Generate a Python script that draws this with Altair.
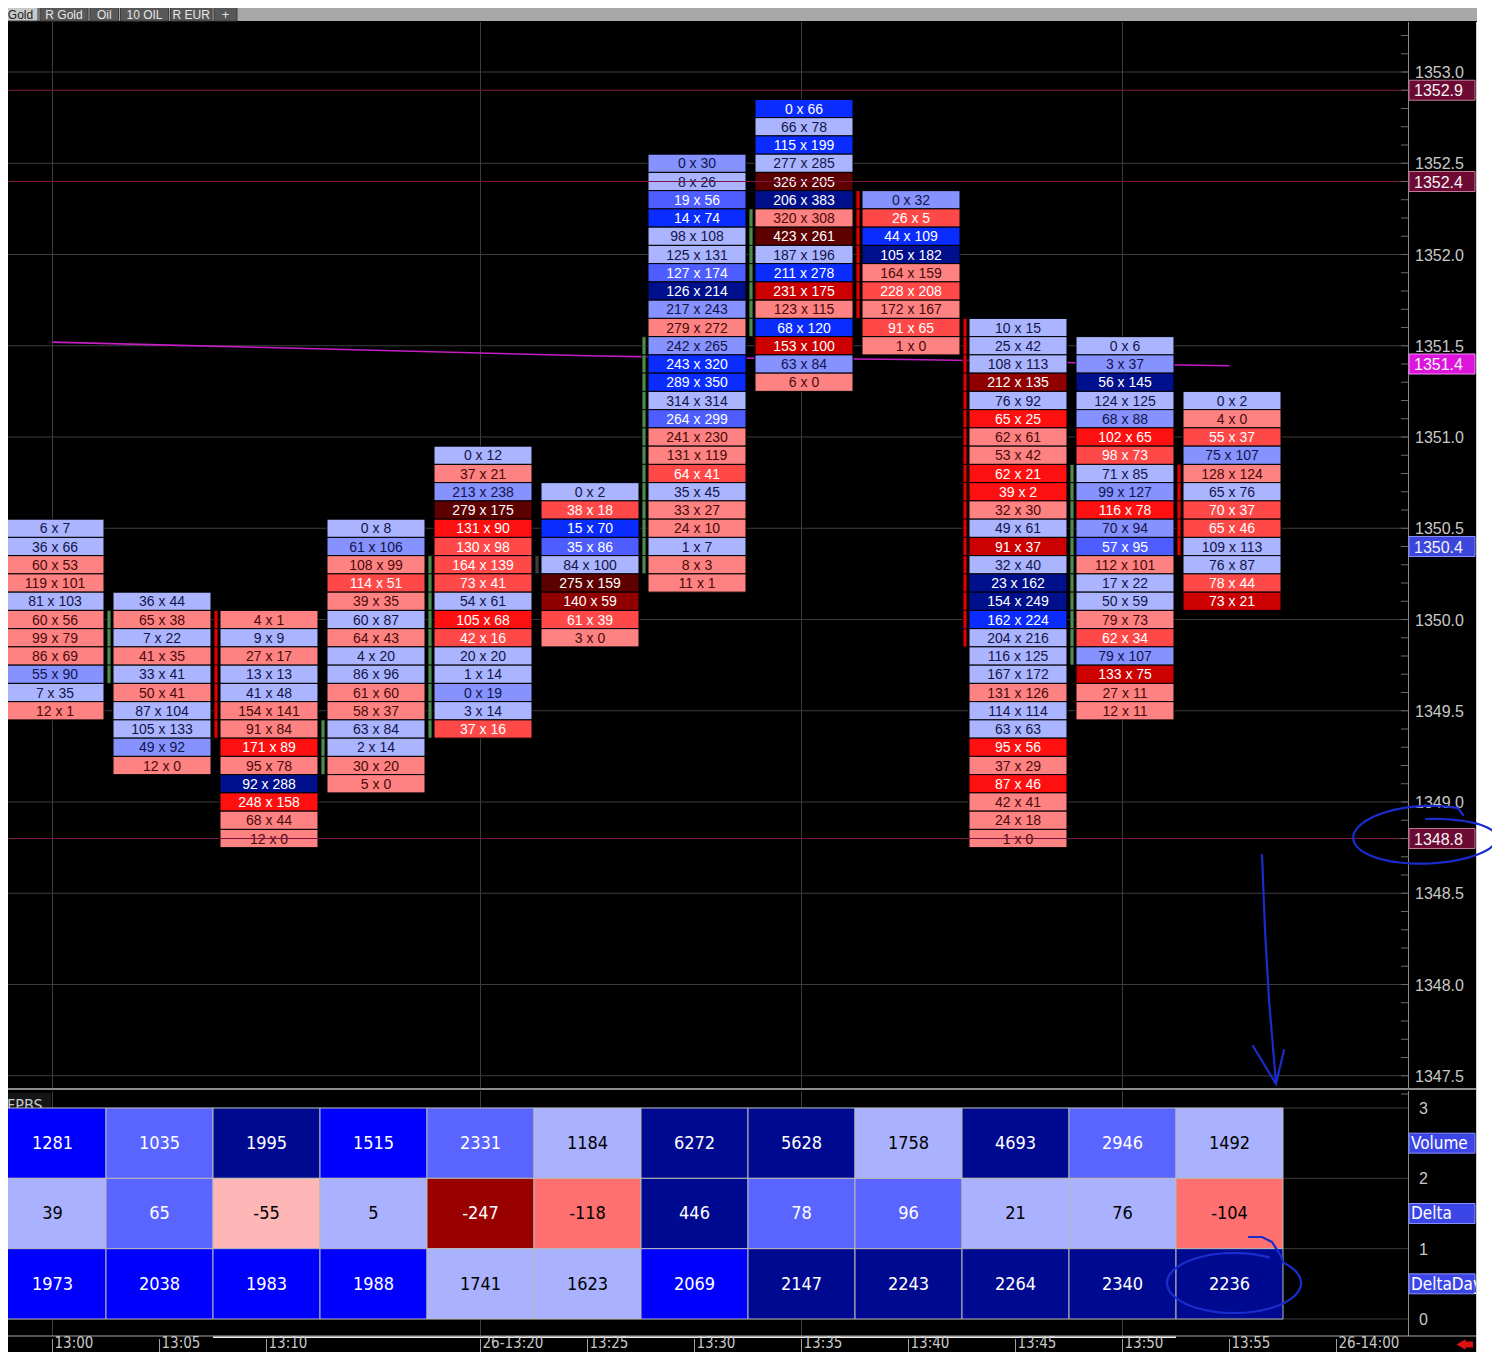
import math
import altair as alt
import pandas as pd

# ---------------------------------------------------------------- data
bar_labels = ["13:00", "13:05", "13:10", "13:15", "13:20", "13:25",
              "13:30", "13:35", "13:40", "13:45", "13:50", "13:55"]
bar_minutes = [0, 5, 10, 15, 20, 25, 30, 35, 40, 45, 50, 55]
top_price = [1350.5, 1350.1, 1350.0, 1350.5, 1350.9, 1350.7,
             1352.5, 1352.8, 1352.3, 1351.6, 1351.5, 1351.2]

cells_1 = ["6x7", "36x66", "60x53", "119x101", "81x103", "60x56", "99x79", "86x69", "55x90", "7x35", "12x1"]
shade_1 = ["lb", "lb", "lr", "lr", "lb", "lr", "lr", "lr", "mb", "lb", "lr"]
cells_2 = ["36x44", "65x38", "7x22", "41x35", "33x41", "50x41", "87x104", "105x133", "49x92", "12x0"]
shade_2 = ["lb", "lr", "lb", "lr", "lb", "lr", "lb", "lb", "mb", "lr"]
cells_3 = ["4x1", "9x9", "27x17", "13x13", "41x48", "154x141", "91x84", "171x89", "95x78", "92x288", "248x158", "68x44", "12x0"]
shade_3 = ["lr", "lb", "lr", "lb", "lb", "lr", "lr", "br", "lr", "db", "br", "lr", "lr"]
cells_4 = ["0x8", "61x106", "108x99", "114x51", "39x35", "60x87", "64x43", "4x20", "86x96", "61x60", "58x37", "63x84", "2x14", "30x20", "5x0"]
shade_4 = ["lb", "mb", "lr", "mr", "lr", "lb", "lr", "lb", "lb", "lr", "lr", "lb", "lb", "lr", "lr"]
cells_5 = ["0x12", "37x21", "213x238", "279x175", "131x90", "130x98", "164x139", "73x41", "54x61", "105x68", "42x16", "20x20", "1x14", "0x19", "3x14", "37x16"]
shade_5 = ["lb", "lr", "mb", "xr", "br", "mr", "mr", "mr", "lb", "br", "mr", "lb", "lb", "mb", "lb", "mr"]
cells_6 = ["0x2", "38x18", "15x70", "35x86", "84x100", "275x159", "140x59", "61x39", "3x0"]
shade_6 = ["lb", "mr", "bb", "mb2", "lb", "xr", "dr", "mr", "lr"]
cells_7 = ["0x30", "8x26", "19x56", "14x74", "98x108", "125x131", "127x174", "126x214", "217x243", "279x272", "242x265", "243x320",
           "289x350", "314x314", "264x299", "241x230", "131x119", "64x41", "35x45", "33x27", "24x10", "1x7", "8x3", "11x1"]
shade_7 = ["mb", "lb", "mb2", "bb", "lb", "lb", "mb2", "db", "mb", "lr", "mb", "bb",
           "bb", "lb", "mb2", "lr", "lr", "mr", "lb", "lr", "lr", "lb", "lr", "lr"]
cells_8 = ["0x66", "66x78", "115x199", "277x285", "326x205", "206x383", "320x308", "423x261", "187x196", "211x278", "231x175", "123x115",
           "68x120", "153x100", "63x84", "6x0"]
shade_8 = ["bb", "lb", "bb", "lb", "xr", "db", "lr", "xr", "lb", "bb", "cr", "lr", "bb", "cr", "mb", "lr"]
cells_9 = ["0x32", "26x5", "44x109", "105x182", "164x159", "228x208", "172x167", "91x65", "1x0"]
shade_9 = ["mb", "mr", "bb", "db", "lr", "mr", "lr", "mr", "lr"]
cells_10 = ["10x15", "25x42", "108x113", "212x135", "76x92", "65x25", "62x61", "53x42", "62x21", "39x2", "32x30", "49x61", "91x37",
            "32x40", "23x162", "154x249", "162x224", "204x216", "116x125", "167x172", "131x126", "114x114", "63x63", "95x56", "37x29",
            "87x46", "42x41", "24x18", "1x0"]
shade_10 = ["lb", "lb", "lb", "dr", "lb", "br", "lr", "lr", "br", "br", "lr", "lb", "cr",
            "lb", "db", "db", "bb", "lb", "lb", "lb", "lr", "lb", "lb", "br", "lr",
            "br", "lr", "lr", "lr"]
cells_11 = ["0x6", "3x37", "56x145", "124x125", "68x88", "102x65", "98x73", "71x85", "99x127", "116x78", "70x94", "57x95", "112x101",
            "17x22", "50x59", "79x73", "62x34", "79x107", "133x75", "27x11", "12x11"]
shade_11 = ["lb", "mb", "db", "lb", "mb", "br", "mr", "lb", "mb", "br", "mb", "mb2", "lr",
            "lb", "lb", "lr", "mr", "mb", "cr", "lr", "lr"]
cells_12 = ["0x2", "4x0", "55x37", "75x107", "128x124", "65x76", "70x37", "65x46", "109x113", "76x87", "78x44", "73x21"]
shade_12 = ["lb", "lr", "mr", "mb", "lr", "lb", "mr", "mr", "lb", "lb", "mr", "cr"]

all_cells = [cells_1, cells_2, cells_3, cells_4, cells_5, cells_6, cells_7, cells_8, cells_9, cells_10, cells_11, cells_12]
all_shades = [shade_1, shade_2, shade_3, shade_4, shade_5, shade_6, shade_7, shade_8, shade_9, shade_10, shade_11, shade_12]

side_bar_kind = ["g", "g", "r", "g", "g", "k", "g", "g", "r", "r", "g", "r"]
side_bar_top = [1349.8, 1350.0, 1350.0, 1349.4, 1350.3, 1350.3, 1351.5, 1352.2, 1352.3, 1351.6, 1350.8, 1350.8]
side_bar_bottom = [1349.5, 1349.7, 1349.4, 1349.2, 1349.4, 1350.3, 1350.3, 1351.6, 1351.7, 1349.9, 1349.8, 1350.4]

vwap = [1351.52, 1351.505, 1351.49, 1351.475, 1351.46, 1351.445,
        1351.435, 1351.43, 1351.425, 1351.415, 1351.40, 1351.39]

volume = [1281, 1035, 1995, 1515, 2331, 1184, 6272, 5628, 1758, 4693, 2946, 1492]
delta = [39, 65, -55, 5, -247, -118, 446, 78, 96, 21, 76, -104]
delta_day = [1973, 2038, 1983, 1988, 1741, 1623, 2069, 2147, 2243, 2264, 2340, 2236]
volume_shade = ["bb", "mb", "db", "bb", "mb", "lb", "db", "db", "lb", "db", "mb", "lb"]
delta_shade = ["lb", "mb", "pk", "lb", "dr", "sa", "db", "mb", "mb", "lb", "lb", "sa"]
delta_day_shade = ["bb", "bb", "bb", "bb", "lb", "lb", "bb", "db", "db", "db", "db", "db"]
row_names = ["Volume", "Delta", "DeltaDay"]
row_axis_labels = ["3", "2", "1", "0"]

level_prices = [1352.9, 1352.4, 1351.4, 1350.4, 1348.8]
level_kind = ["m", "m", "v", "b", "m"]

time_label_minutes = [0, 5, 10, 20, 25, 30, 35, 40, 45, 50, 55, 60]
time_labels = ["13:00", "13:05", "13:10", "26-13:20", "13:25", "13:30",
               "13:35", "13:40", "13:45", "13:50", "13:55", "26-14:00"]
grid_minutes = [0, 20, 35, 50]
tabs = ["Gold", "R Gold", "Oil", "10 OIL", "R EUR", "+"]

# ---------------------------------------------------------------- styles
FILL = {"lb": "#aab4ff", "mb": "#8592ff", "mb2": "#4d5dff", "bb": "#0a2cff", "db": "#00108c",
        "lr": "#ff8282", "mr": "#ff4848", "br": "#ff1010", "cr": "#cc0000", "dr": "#900000", "xr": "#5c0000"}
TXT = {"lb": "#14144a", "mb": "#14144a", "lr": "#4a0a0a"}
BFILL = {"bb": "#0000ff", "mb": "#5a64ff", "db": "#000a90", "lb": "#aab2ff",
         "pk": "#ffb6b6", "sa": "#ff7070", "dr": "#990000"}
BTXT = {"lb": "#000000", "pk": "#000000", "sa": "#000000"}
SIDE = {"g": "#4c8c4c", "r": "#e00000", "k": "#404040"}
LEVEL_FILL = {"m": "#6c0a34", "v": "#dc14dc", "b": "#3c46dc"}
LEVEL_STROKE = {"m": "#c07898", "v": "#f090f0", "b": "#8890ff"}
FONT = "Liberation Sans, Arial, sans-serif"
NARROW = "Liberation Sans Narrow, Arial Narrow, DejaVu Sans Condensed, Liberation Sans, sans-serif"
PEN = "#1a2ccc"

# ---------------------------------------------------------------- geometry
# the picture covers reference pixels x 8..1492, y 8..1352 (page margin is 8px)
PX_PER_MIN = 21.4
X_1300 = 52.5


def mx(px):
    return (px - X_1300) / PX_PER_MIN


def dm(dpx):
    return dpx / PX_PER_MIN


def py(y):
    return 1353.0 - (y - 72.0) / 182.5


def vy(y):
    return 3.0 - (y - 1108.0) / 70.333


LEFT, RIGHT, TOP, BOTTOM = 8, 1492, 8, 1352
W, H = RIGHT - LEFT, BOTTOM - TOP
XD = [mx(LEFT), mx(RIGHT)]
xs = alt.Scale(domain=XD, nice=False, zero=False)
ys_main = alt.Scale(domain=[py(BOTTOM), py(TOP)], nice=False, zero=False)
ys_sub = alt.Scale(domain=[vy(BOTTOM), vy(TOP)], nice=False, zero=False)
ys_px = alt.Scale(domain=[TOP, BOTTOM], reverse=True, nice=False, zero=False)


def C(rows):
    return alt.Chart(pd.DataFrame(rows))


def rect(rows, ys, **mk):
    return C(rows).mark_rect(clip=True, **mk).encode(
        x=alt.X("x1:Q", scale=xs, axis=None), x2="x2:Q",
        y=alt.Y("y1:Q", scale=ys, axis=None), y2="y2:Q")


def hrule(rows, ys, **mk):
    return C(rows).mark_rule(clip=True, **mk).encode(
        x=alt.X("x1:Q", scale=xs, axis=None), x2="x2:Q",
        y=alt.Y("y:Q", scale=ys, axis=None))


def vrule(rows, ys, **mk):
    return C(rows).mark_rule(clip=True, **mk).encode(
        x=alt.X("x:Q", scale=xs, axis=None),
        y=alt.Y("y1:Q", scale=ys, axis=None), y2="y2:Q")


def text(rows, ys, **mk):
    enc = dict(x=alt.X("x:Q", scale=xs, axis=None), y=alt.Y("y:Q", scale=ys, axis=None), text="t:N")
    if "tc" in rows[0]:
        enc["color"] = alt.Color("tc:N", scale=None)
    return C(rows).mark_text(clip=True, **mk).encode(**enc)


def path(rows, ys, **mk):
    return C(rows).mark_line(clip=True, **mk).encode(
        x=alt.X("x:Q", scale=xs, axis=None), y=alt.Y("y:Q", scale=ys, axis=None),
        detail="g:N", order="o:Q")


layers = []

# ---------------------------------------------------------------- tab bar
tab_rows, tab_text = [], []
cur = 3
for i, name in enumerate(tabs):
    w = max(23, 6.5 * len(name) + 9)
    sel = i == 0
    tab_rows.append(dict(x1=mx(cur), x2=mx(cur + w), y1=2, y2=21, fill="#c8c8c8" if sel else "#585858"))
    tab_text.append(dict(x=mx(cur + w / 2), y=15, t=name, tc="#202020" if sel else "#e6e6e6"))
    cur += w + 2

layers += [
    rect([dict(x1=XD[0], x2=mx(1477), y1=0, y2=21)], ys_px, color="#a8a8a8"),
    rect(tab_rows, ys_px, stroke="#3c3c3c", strokeWidth=1).encode(fill=alt.Fill("fill:N", scale=None)),
    text(tab_text, ys_px, font=FONT, fontSize=12, align="center", baseline="middle"),
]

# ---------------------------------------------------------------- main panel
cell_rows, cell_text, side_rows = [], [], []
for k, m in enumerate(bar_minutes):
    for i, c in enumerate(all_cells[k]):
        b, a = c.split("x")
        p = round(top_price[k] - 0.1 * i, 1)
        sh = all_shades[k][i]
        cell_rows.append(dict(x1=m + dm(-46.5), x2=m + dm(51.5), y1=p - 0.05, y2=p + 0.05, fill=FILL[sh]))
        cell_text.append(dict(x=m + dm(2.5), y=p, t=f"{b} x {a}", tc=TXT.get(sh, "#ffffff")))
    n = int(round((side_bar_top[k] - side_bar_bottom[k]) * 10)) + 1
    for j in range(n):
        p = side_bar_top[k] - 0.1 * j
        side_rows.append(dict(x1=m + dm(-52.5), x2=m + dm(-48.5), y1=p - 0.05, y2=p + 0.05,
                              fill=SIDE[side_bar_kind[k]]))

price_grid = [1347.5 + 0.5 * i for i in range(12)]
price_ticks = [round(1347.4 + 0.1 * i, 1) for i in range(59)]
ax_left, ax_right = mx(1408.5), mx(1476.5)
M_TOP, M_BOT = py(22), py(1090)

layers += [
    hrule([dict(x1=XD[0], x2=ax_left, y=p) for p in price_grid], ys_main, color="#3c3c3c", strokeWidth=1),
    vrule([dict(x=m, y1=M_BOT, y2=M_TOP) for m in grid_minutes], ys_main, color="#3c3c3c", strokeWidth=1),
    C([dict(x=m, y=v) for m, v in zip(bar_minutes, vwap)]).mark_line(clip=True, color="#c41ec4", strokeWidth=1.6).encode(
        x=alt.X("x:Q", scale=xs, axis=None), y=alt.Y("y:Q", scale=ys_main, axis=None)),
    rect(cell_rows, ys_main, stroke="#000000", strokeWidth=1).encode(fill=alt.Fill("fill:N", scale=None)),
    rect(side_rows, ys_main, stroke="#000000", strokeWidth=0.8).encode(fill=alt.Fill("fill:N", scale=None)),
    text(cell_text, ys_main, font=FONT, fontSize=14, align="center", baseline="middle", dy=1),
    hrule([dict(x1=XD[0], x2=ax_left, y=p) for p, kd in zip(level_prices, level_kind) if kd == "m"],
          ys_main, color="#7a1444", strokeWidth=1),
    hrule([dict(x1=XD[0], x2=ax_right, y=py(1089))], ys_main, color="#8c8c8c", strokeWidth=2),
    vrule([dict(x=ax_left, y1=M_BOT, y2=M_TOP)], ys_main, color="#8a8a8a", strokeWidth=1),
    hrule([dict(x1=mx(1401), x2=ax_left, y=p) for p in price_ticks], ys_main, color="#6a6a6a", strokeWidth=1),
    text([dict(x=mx(1415), y=p, t=f"{p:.1f}") for p in price_grid], ys_main,
         font=FONT, fontSize=16, align="left", baseline="middle", color="#c8c8c8", dy=1),
    rect([dict(x1=mx(1409), x2=mx(1475), y1=p - 0.0548, y2=p + 0.0548, fill=LEVEL_FILL[kd], st=LEVEL_STROKE[kd])
          for p, kd in zip(level_prices, level_kind)], ys_main, strokeWidth=1).encode(
        fill=alt.Fill("fill:N", scale=None), stroke=alt.Stroke("st:N", scale=None)),
    text([dict(x=mx(1414), y=p, t=f"{p:.1f}") for p in level_prices], ys_main,
         font=FONT, fontSize=16, align="left", baseline="middle", color="#f4f4f4", dy=1),
]

# ---------------------------------------------------------------- bottom (FPBS) panel
sub_cells, sub_text = [], []
for k, m in enumerate(bar_minutes):
    for r, (vals, shades) in enumerate([(volume, volume_shade), (delta, delta_shade), (delta_day, delta_day_shade)]):
        lo = 2 - r
        sh = shades[k]
        sub_cells.append(dict(x1=m - 2.5, x2=m + 2.5, y1=lo, y2=lo + 1, fill=BFILL[sh]))
        sub_text.append(dict(x=m, y=lo + 0.5, t=str(vals[k]), tc=BTXT.get(sh, "#ffffff")))

S_TOP, S_BOT = vy(1091), vy(1336)
layers += [
    hrule([dict(x1=XD[0], x2=ax_left, y=v) for v in [0, 1, 2, 3]], ys_sub, color="#3c3c3c", strokeWidth=1),
    vrule([dict(x=m, y1=S_BOT, y2=S_TOP) for m in grid_minutes], ys_sub, color="#3c3c3c", strokeWidth=1),
    rect([dict(x1=mx(3), x2=mx(51), y1=vy(1115), y2=vy(1093))], ys_sub, color="#161616"),
    text([dict(x=mx(7), y=vy(1105), t="FPBS")], ys_sub, font=NARROW, fontSize=16, align="left",
         baseline="middle", color="#c8c8c8", dy=1),
    rect(sub_cells, ys_sub, stroke="#b8b8b8", strokeWidth=1).encode(fill=alt.Fill("fill:N", scale=None)),
    text(sub_text, ys_sub, font=NARROW, fontSize=18, align="center", baseline="middle", dy=1),
    vrule([dict(x=ax_left, y1=S_BOT, y2=S_TOP)], ys_sub, color="#8a8a8a", strokeWidth=1),
    text([dict(x=mx(1419), y=3 - i, t=s) for i, s in enumerate(row_axis_labels)], ys_sub,
         font=FONT, fontSize=16, align="left", baseline="middle", color="#c8c8c8", dy=1),
    rect([dict(x1=mx(1409), x2=mx(1475), y1=2.5 - i - 0.142, y2=2.5 - i + 0.142) for i in range(3)], ys_sub,
         color="#3c46e6", stroke="#8890ff", strokeWidth=1),
    text([dict(x=mx(1411), y=2.5 - i, t=s) for i, s in enumerate(row_names)], ys_sub,
         font=NARROW, fontSize=17, align="left", baseline="middle", color="#ffffff", dy=1),
]

# ---------------------------------------------------------------- time axis strip
layers += [
    hrule([dict(x1=XD[0], x2=ax_right, y=1336)], ys_px, color="#a8a8a8", strokeWidth=1),
    rect([dict(x1=mx(213), x2=mx(1176), y1=1336.5, y2=1338)], ys_px, color="#f2f2f2"),
    vrule([dict(x=m, y1=1339, y2=1352) for m in time_label_minutes], ys_px, color="#a0a0a0", strokeWidth=1),
    text([dict(x=m + dm(2), y=1348.3, t=s) for m, s in zip(time_label_minutes, time_labels)], ys_px,
         font=NARROW, fontSize=15, align="left", baseline="alphabetic", color="#c8c8c8"),
    rect([dict(x1=mx(1464), x2=mx(1473), y1=1341.5, y2=1347.5)], ys_px, color="#e01010"),
    C([dict(x=mx(1461), y=1344.5)]).mark_point(clip=True, shape="triangle-left", filled=True, size=110,
                                               color="#e01010", opacity=1).encode(
        x=alt.X("x:Q", scale=xs, axis=None), y=alt.Y("y:Q", scale=ys_px, axis=None)),
]

# ---------------------------------------------------------------- right page edge
layers += [
    rect([dict(x1=mx(1477), x2=XD[1], y1=TOP, y2=BOTTOM)], ys_px, color="#ffffff"),
    vrule([dict(x=ax_right, y1=22, y2=BOTTOM)], ys_px, color="#d0d0d0", strokeWidth=1),
]

# ---------------------------------------------------------------- hand-drawn pen annotations
ann = []
n = 90
t0, t1 = -math.pi / 2, 1.5 * math.pi + 0.45
for i in range(n + 1):
    f = i / n
    th = t0 + (t1 - t0) * f
    rx, ry = 70 + 4 * f, 19 + 14 * f
    ann.append(dict(x=mx(1426 + rx * math.cos(th)), y=py(838 + ry * math.sin(th)), g="e", o=i))
ann.append(dict(x=mx(1463), y=py(815), g="e", o=n + 1))
for i, (px_, py_) in enumerate([(1262, 855), (1265, 930), (1269, 1000), (1276, 1083)]):
    ann.append(dict(x=mx(px_), y=py(py_), g="a", o=i))
for i, (px_, py_) in enumerate([(1253, 1046), (1276, 1084), (1284, 1050)]):
    ann.append(dict(x=mx(px_), y=py(py_), g="h", o=i))
layers.append(path(ann, ys_main, color=PEN, strokeWidth=2.2, strokeCap="round"))

ell2 = []
for i, (px_, py_) in enumerate([(1249, 1237), (1262, 1237), (1272, 1242), (1281, 1256)]):
    ell2.append(dict(x=mx(px_), y=vy(py_), g="e", o=i))
t0, t1 = -0.75, 1.5 * math.pi + 0.55
for i in range(n + 1):
    th = t0 + (t1 - t0) * i / n
    ell2.append(dict(x=mx(1234 + 67 * math.cos(th)), y=vy(1283 + 30 * math.sin(th)), g="e", o=10 + i))
layers.append(path(ell2, ys_sub, color=PEN, strokeWidth=2.2, strokeCap="round"))

chart = alt.layer(*layers).resolve_scale(y="independent").properties(
    width=W, height=H, padding=0, background="#000000",
    autosize=alt.AutoSizeParams(type="none", contains="padding"),
).configure_view(strokeWidth=0)

chart.save("out.html", embed_options={"renderer": "svg", "actions": False})
